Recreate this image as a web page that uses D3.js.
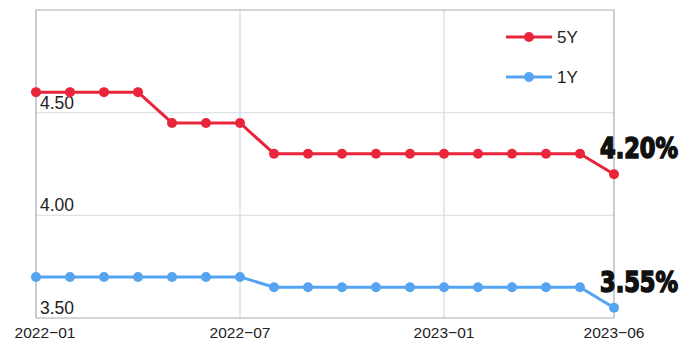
<!DOCTYPE html>
<html>
<head>
<meta charset="utf-8">
<script src="https://cdn.jsdelivr.net/npm/d3@7"></script>
<style>
  body { margin: 0; background: #fff; }
  svg { display: block; font-family: "Liberation Sans", Arial, sans-serif; }
</style>
</head>
<body>
<svg id="chart"></svg>
<script>
const width = 700;
const height = 352;

const months = ['2022-01','2022-02','2022-03','2022-04','2022-05','2022-06','2022-07','2022-08','2022-09',
  '2022-10','2022-11','2022-12','2023-01','2023-02','2023-03','2023-04','2023-05','2023-06'];
const fiveY = [4.60,4.60,4.60,4.60,4.45,4.45,4.45,4.30,4.30,4.30,4.30,4.30,4.30,4.30,4.30,4.30,4.30,4.20];
const oneY = [3.70,3.70,3.70,3.70,3.70,3.70,3.70,3.65,3.65,3.65,3.65,3.65,3.65,3.65,3.65,3.65,3.65,3.55];
const xTicks = ['2022-01','2022-07','2023-01','2023-06'];
const yTicks = [3.5, 4.0, 4.5];
const seriesNames = ['5Y', '1Y'];
const endLabels = ['4.20%', '3.55%'];

const red = '#e8253b';
const blue = '#56a3f1';

const margin = { top: 10, right: 86, bottom: 34, left: 36 };
const svg = d3.select('#chart').attr('width', width).attr('height', height);

const x = d3.scalePoint()
  .domain(months)
  .range([margin.left, width - margin.right]);
const y = d3.scaleLinear()
  .domain([3.5, 5.0])
  .range([height - margin.bottom, margin.top]);

// grid
svg.append('g')
  .selectAll('line.h')
  .data(yTicks.filter(d => d > 3.5))
  .enter().append('line')
  .attr('x1', margin.left).attr('x2', width - margin.right)
  .attr('y1', d => y(d)).attr('y2', d => y(d))
  .attr('stroke', '#dde3e7').attr('stroke-width', 1.2);

svg.append('g')
  .selectAll('line.v')
  .data(xTicks.slice(1, -1))
  .enter().append('line')
  .attr('x1', d => x(d)).attr('x2', d => x(d))
  .attr('y1', margin.top).attr('y2', height - margin.bottom)
  .attr('stroke', '#d3dadf').attr('stroke-width', 1.2);

// frame
svg.append('path')
  .attr('d', `M${margin.left},${height - margin.bottom}V${margin.top}H${width - margin.right}V${height - margin.bottom}`)
  .attr('fill', 'none').attr('stroke', '#a3adb4').attr('stroke-width', 1.2);
svg.append('line')
  .attr('x1', margin.left).attr('x2', width - margin.right)
  .attr('y1', height - margin.bottom).attr('y2', height - margin.bottom)
  .attr('stroke', '#a3adb4').attr('stroke-width', 1.2);

// y labels inside plot
svg.append('g')
  .selectAll('text')
  .data(yTicks)
  .enter().append('text')
  .attr('x', margin.left + 4)
  .attr('y', d => y(d) - 4)
  .attr('font-size', 17.5)
  .attr('fill', '#222')
  .text(d => d.toFixed(2));

// x labels
svg.append('g')
  .selectAll('text')
  .data(xTicks)
  .enter().append('text')
  .attr('x', (d, i) => i === 0 ? x(d) + 9 : x(d))
  .attr('y', height - 14)
  .attr('text-anchor', 'middle')
  .attr('font-size', 15.5)
  .attr('fill', '#222')
  .text(d => d.replace('-', '\u2212'));

const line = d3.line()
  .x((d, i) => x(months[i]))
  .y(d => y(d));

[[fiveY, red], [oneY, blue]].forEach(([vals, col]) => {
  svg.append('path')
    .datum(vals)
    .attr('d', line)
    .attr('fill', 'none')
    .attr('stroke', col)
    .attr('stroke-width', 3)
    .attr('stroke-linejoin', 'round');
  svg.append('g')
    .selectAll('circle')
    .data(vals)
    .enter().append('circle')
    .attr('cx', (d, i) => x(months[i]))
    .attr('cy', d => y(d))
    .attr('r', 5)
    .attr('fill', col);
});

// legend
const legend = svg.append('g');
[red, blue].forEach((col, i) => {
  const ly = 37 + i * 40;
  legend.append('line')
    .attr('x1', 506).attr('x2', 552)
    .attr('y1', ly).attr('y2', ly)
    .attr('stroke', col).attr('stroke-width', 3);
  legend.append('circle')
    .attr('cx', 529).attr('cy', ly).attr('r', 5).attr('fill', col);
  legend.append('text')
    .attr('x', 557).attr('y', ly + 6)
    .attr('font-size', 17)
    .attr('fill', '#222')
    .text(seriesNames[i]);
});

// end labels
[fiveY, oneY].forEach((vals, i) => {
  const last = vals[vals.length - 1];
  svg.append('text')
    .attr('x', 600)
    .attr('y', y(last) - 16)
    .attr('font-family', '"Liberation Sans Narrow", "DejaVu Sans Condensed", sans-serif')
    .attr('font-weight', 'bold')
    .attr('font-size', 29)
    .attr('fill', '#111')
    .attr('stroke', '#111')
    .attr('stroke-width', 1.6)
    .attr('textLength', 78)
    .attr('lengthAdjust', 'spacingAndGlyphs')
    .text(endLabels[i]);
});
</script>
</body>
</html>
